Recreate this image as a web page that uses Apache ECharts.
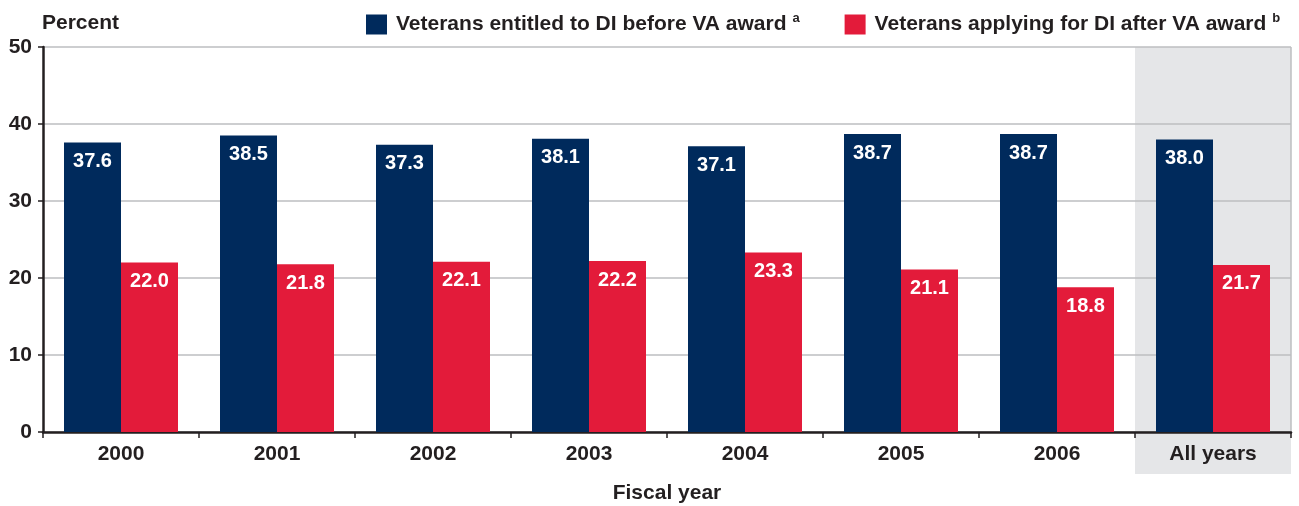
<!DOCTYPE html>
<html lang="en">
<head>
    <meta charset="UTF-8">
    <title>Veterans DI</title>
    <style>
        body { margin: 0; background: #fff; }
    </style>
</head>
<body>
<div id="main" style="width: 1299px;height:506px;"></div>
<script type="text/javascript" src="https://cdn.jsdelivr.net/npm/echarts@6/dist/echarts.min.js"></script>
<script>
    var categories = ['2000', '2001', '2002', '2003', '2004', '2005', '2006', 'All years'];
    var entitledBefore = [37.6, 38.5, 37.3, 38.1, 37.1, 38.7, 38.7, 38.0];
    var applyingAfter = [22.0, 21.8, 22.1, 22.2, 23.3, 21.1, 18.8, 21.7];
    var seriesNames = ['Veterans entitled to DI before VA award', 'Veterans applying for DI after VA award'];
    var seriesSup = ['a', 'b'];

    var font = '"Liberation Sans", Arial, sans-serif';
    var dark = '#231f20';

    var myChart = echarts.init(document.getElementById('main'));

    var barLabel = {
        show: true,
        position: 'insideTop',
        distance: 9,
        color: '#fff',
        fontFamily: font,
        fontWeight: 'bold',
        fontSize: 20,
        formatter: function (p) { return p.value.toFixed(1); }
    };

    var option = {
        animation: false,
        textStyle: { fontFamily: font },
        grid: { left: 43, right: 8, top: 47, bottom: 74, containLabel: false, outerBoundsMode: 'none' },
        legend: {
            left: 361,
            top: 7,
            itemWidth: 21,
            itemHeight: 20,
            itemGap: 45,
            icon: 'rect',
            selectedMode: false,
            data: seriesNames,
            formatter: function (name) {
                var i = seriesNames.indexOf(name);
                return name + ' {sup|' + seriesSup[i] + '}';
            },
            textStyle: {
                color: dark,
                fontFamily: font,
                fontWeight: 'bold',
                fontSize: 21,
                padding: [0, 0, 0, 4],
                rich: {
                    sup: { fontSize: 13, fontWeight: 'bold', color: dark, fontFamily: font, padding: [0, 0, 12, 0] }
                }
            }
        },
        xAxis: {
            type: 'category',
            data: categories,
            name: 'Fiscal year',
            nameLocation: 'middle',
            nameGap: 51,
            nameTextStyle: { color: dark, fontFamily: font, fontWeight: 'bold', fontSize: 21 },
            axisLine: { lineStyle: { color: dark, width: 2.5 } },
            axisTick: { show: true, length: 6, lineStyle: { color: dark, width: 1.5 } },
            axisLabel: { color: dark, fontFamily: font, fontWeight: 'bold', fontSize: 21, margin: 12 }
        },
        yAxis: {
            type: 'value',
            min: 0,
            max: 50,
            interval: 10,
            name: 'Percent',
            nameLocation: 'end',
            nameGap: 13,
            nameTextStyle: { color: dark, fontFamily: font, fontWeight: 'bold', fontSize: 21, align: 'left', padding: [0, 0, 0, -1] },
            axisLine: { show: true, lineStyle: { color: dark, width: 2.5 } },
            axisTick: { show: true, length: 5, lineStyle: { color: dark, width: 1.5 } },
            axisLabel: { color: dark, fontFamily: font, fontWeight: 'bold', fontSize: 21, margin: 11 },
            splitLine: { lineStyle: { color: '#bcbec0', width: 1.5 } }
        },
        series: [
            {
                name: seriesNames[0],
                type: 'bar',
                barWidth: 57,
                barGap: '0%',
                itemStyle: { color: '#002a5c' },
                label: barLabel,
                data: entitledBefore
            },
            {
                name: seriesNames[1],
                type: 'bar',
                barWidth: 57,
                itemStyle: { color: '#e31b3a' },
                label: barLabel,
                data: applyingAfter
            }
        ]
    };

    myChart.setOption(option);

    // shaded band behind the "All years" category, down through its label
    var last = categories[categories.length - 1];
    var cx = myChart.convertToPixel({ xAxisIndex: 0 }, last);
    var band = (1299 - 43 - 8) / categories.length;
    var topY = myChart.convertToPixel({ yAxisIndex: 0 }, 50);
    var baseY = myChart.convertToPixel({ yAxisIndex: 0 }, 0);
    myChart.setOption({
        graphic: [{
            type: 'rect',
            z: -10,
            silent: true,
            shape: { x: cx - band / 2, y: topY, width: band, height: 474 - topY },
            style: { fill: '#e5e6e8' }
        }, {
            type: 'line',
            z: -5,
            silent: true,
            shape: { x1: cx + band / 2, y1: topY, x2: cx + band / 2, y2: baseY },
            style: { stroke: '#bcbec0', lineWidth: 1.5 }
        }]
    });
</script>
</body>
</html>
